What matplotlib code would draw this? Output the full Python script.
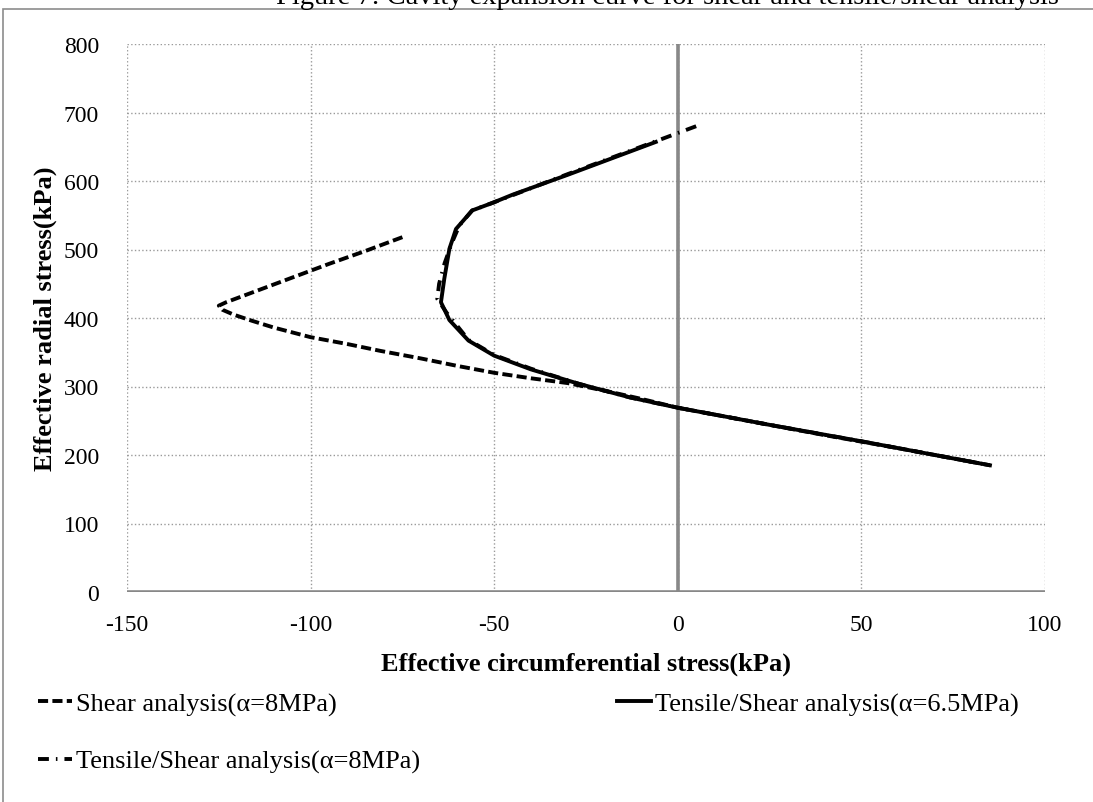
import matplotlib.pyplot as plt
from matplotlib.patches import Rectangle

plt.rcParams['font.family'] = ['Liberation Serif', 'DejaVu Serif']
plt.rcParams['axes.unicode_minus'] = False

# Shear analysis (alpha = 8 MPa)
shear_x = [-75, -85, -95, -105, -115, -123, -125, -124, -121, -116, -110, -100,
           -90, -81, -70, -60, -50, -40, -30, -20, -10, 0, 20, 40, 60, 85]
shear_y = [518, 498, 479, 459, 439, 423, 418, 412, 405, 396, 386, 372,
           362, 352, 341, 330, 320, 312, 305, 294, 282, 269, 249, 229, 210, 185]

# Tensile/Shear analysis (alpha = 6.5 MPa)
ts65_x = [-6, -15, -30, -45, -50.5, -56, -60.4, -62.2, -63.6, -64.5, -62.2, -57,
          -50, -40, -27, -13, 0, 25, 50, 85]
ts65_y = [657, 639, 609, 580, 568, 557, 530, 501, 457, 423, 397, 367,
          345, 325, 304, 284, 269, 244, 220, 185]

# Tensile/Shear analysis (alpha = 8 MPa)
ts8_x = [5, -6, -30, -50, -56, -59.5, -61.5, -63.5, -65, -65.5, -63, -60, -57,
         -50, -40, -27, -13, 0, 25, 50, 85]
ts8_y = [680, 658, 610, 569, 557, 535, 510, 480, 450, 428, 408, 388, 368,
         346, 326, 304, 284, 269, 244, 220, 185]

fig = plt.figure(figsize=(10.93, 8.03), dpi=100)
ax = fig.add_axes([127/1093, 1-593/803, (1045-127)/1093, (593-45)/803])

# outer chart border (only top and left visible)
fig.patches.append(Rectangle((3/1093, -0.05), 1.2, 1-10/803+0.05, transform=fig.transFigure,
                             fill=False, edgecolor='#8c8c8c', lw=1.2))

fig.text(667/1093, 1-4/803, "Figure 7: Cavity expansion curve for shear and tensile/shear analysis",
         ha='center', va='baseline', fontsize=20.5)

ax.grid(True, color='#9a9a9a', linestyle=':', linewidth=1.0)
ax.set_axisbelow(True)
for s in ax.spines.values():
    s.set_visible(False)
ax.axvline(0, color='#888888', lw=2.6, zorder=1)
ax.axhline(0, color='#888888', lw=2.6, zorder=1)

l1, = ax.plot(shear_x, shear_y, color='black', lw=2.8, linestyle=(0, (2.6, 1.1)),
              label="Shear analysis(α=8MPa)", zorder=3)
l3, = ax.plot(ts8_x, ts8_y, color='black', lw=2.8, linestyle=(0, (2.8, 1.8, 0.4, 1.8)),
              label="Tensile/Shear analysis(α=8MPa)", zorder=3)
l2, = ax.plot(ts65_x, ts65_y, color='black', lw=2.8,
              label="Tensile/Shear analysis(α=6.5MPa)", zorder=4)

ax.set_xlim(-150, 100)
ax.set_ylim(0, 800)
ax.set_xticks(range(-150, 101, 50))
ax.set_yticks(range(0, 801, 100))
ax.tick_params(axis='both', length=0, labelsize=17)
ax.tick_params(axis='x', pad=16)
ax.tick_params(axis='y', pad=20)

ax.set_xlabel("Effective circumferential stress(kPa)", fontsize=19, fontweight='bold', labelpad=12)
ax.set_ylabel("Effective radial stress(kPa)", fontsize=19, fontweight='bold', labelpad=5)

fig.legend(handles=[l1, l3, l2], loc='upper left', bbox_to_anchor=(38/1093, 1-693/803),
           ncol=2, frameon=False, fontsize=19, handlelength=1.3, handletextpad=0.15,
           columnspacing=7.45, labelspacing=1.27, borderpad=0, borderaxespad=0)

fig.savefig("out.png", dpi=100)
